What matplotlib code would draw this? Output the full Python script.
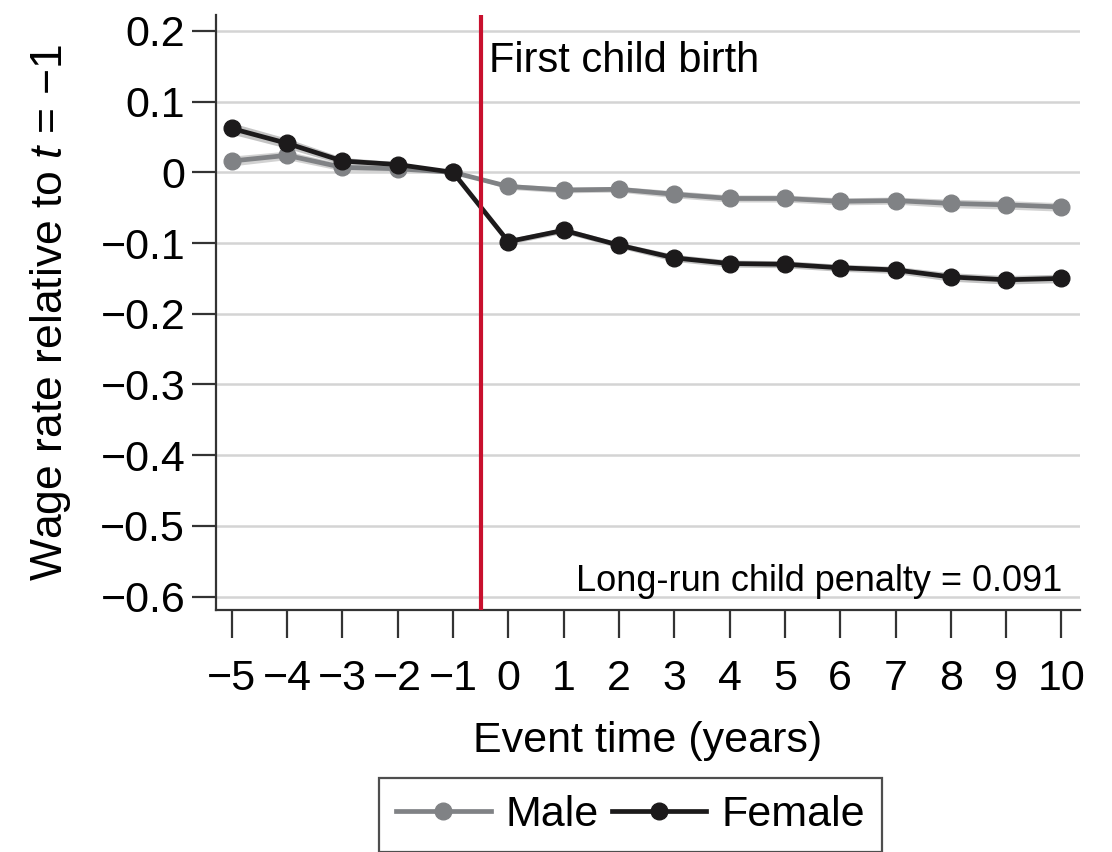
import matplotlib
matplotlib.use('Agg')
import matplotlib.pyplot as plt
import numpy as np

# Event time and estimated wage effects (relative to t = -1)
event_time = [-5, -4, -3, -2, -1, 0, 1, 2, 3, 4, 5, 6, 7, 8, 9, 10]
male = [0.016, 0.024, 0.007, 0.005, 0.0, -0.020, -0.025, -0.024, -0.031, -0.037,
        -0.037, -0.041, -0.040, -0.044, -0.046, -0.049]
female = [0.062, 0.041, 0.016, 0.011, 0.0, -0.098, -0.082, -0.103, -0.121, -0.129,
          -0.130, -0.135, -0.138, -0.148, -0.152, -0.150]
# confidence band half widths
male_ci = [0.007, 0.006, 0.005, 0.004, 0.0, 0.004, 0.004, 0.004, 0.005, 0.005,
           0.005, 0.005, 0.005, 0.006, 0.006, 0.006]
female_ci = [0.008, 0.007, 0.005, 0.004, 0.0, 0.004, 0.004, 0.004, 0.005, 0.005,
             0.005, 0.005, 0.005, 0.006, 0.006, 0.006]
y_ticks = [0.2, 0.1, 0, -0.1, -0.2, -0.3, -0.4, -0.5, -0.6]
y_labels = ['0.2', '0.1', '0', '\u22120.1', '\u22120.2', '\u22120.3', '\u22120.4', '\u22120.5', '\u22120.6']
penalty = 0.091

plt.rcParams['font.family'] = ['Liberation Sans', 'DejaVu Sans']
plt.rcParams['mathtext.fontset'] = 'custom'
plt.rcParams['mathtext.it'] = 'Liberation Sans:italic'
plt.rcParams['mathtext.rm'] = 'Liberation Sans'

fig = plt.figure(figsize=(11.12, 8.52), dpi=100)
ax = fig.add_axes([0.194, 0.284, 0.777, 0.698])

x = np.array(event_time)
ax.fill_between(x, np.array(male) - male_ci, np.array(male) + male_ci,
                color='#d2d2d2', lw=0, zorder=2)
ax.fill_between(x, np.array(female) - female_ci, np.array(female) + female_ci,
                color='#c4c4c4', lw=0, zorder=2)
ax.plot(x, male, color='#808285', lw=3.4, marker='o', ms=12, label='Male', zorder=3)
ax.plot(x, female, color='#1c1a1b', lw=3.4, marker='o', ms=12, label='Female', zorder=4)

ax.axvline(-0.5, color='#c8102e', lw=3, zorder=5)
ax.text(-0.35, 0.158, 'First child birth', fontsize=30, va='center', ha='left')
ax.text(10.02, -0.579, 'Long-run child penalty = %.3f' % penalty, fontsize=26,
        ha='right', va='center')

ax.set_xlim(-5.29, 10.33)
ax.set_ylim(-0.619, 0.222)
ax.set_xticks(event_time)
ax.set_xticklabels(['\u2212%d' % -t if t < 0 else str(t) for t in event_time])
ax.set_yticks(y_ticks)
ax.set_yticklabels(y_labels)

ax.grid(axis='y', color='#d4d4d4', lw=1.8, zorder=0)
ax.set_axisbelow(True)
for s in ['top', 'right']:
    ax.spines[s].set_visible(False)
for s in ['left', 'bottom']:
    ax.spines[s].set_linewidth(1.6)
    ax.spines[s].set_color('#333333')

ax.tick_params(axis='y', length=17, width=1.6, color='#333333', labelsize=31, pad=5)
ax.tick_params(axis='x', length=20, width=1.6, color='#333333', labelsize=31, pad=15)

ax.set_xlabel('Event time (years)', fontsize=31, labelpad=16)
ax.set_ylabel('Wage rate relative to $t$ = \u22121', fontsize=32, labelpad=20)

leg = fig.legend(loc='upper center', bbox_to_anchor=(0.567, 0.087), ncol=2,
                 fontsize=31, frameon=True, fancybox=False, handlelength=2.2,
                 handletextpad=0.35, columnspacing=0.3, borderpad=0.4,
                 borderaxespad=0)
leg.get_frame().set_edgecolor('#222222')
leg.get_frame().set_linewidth(1.6)

fig.savefig('out.png', dpi=100)
